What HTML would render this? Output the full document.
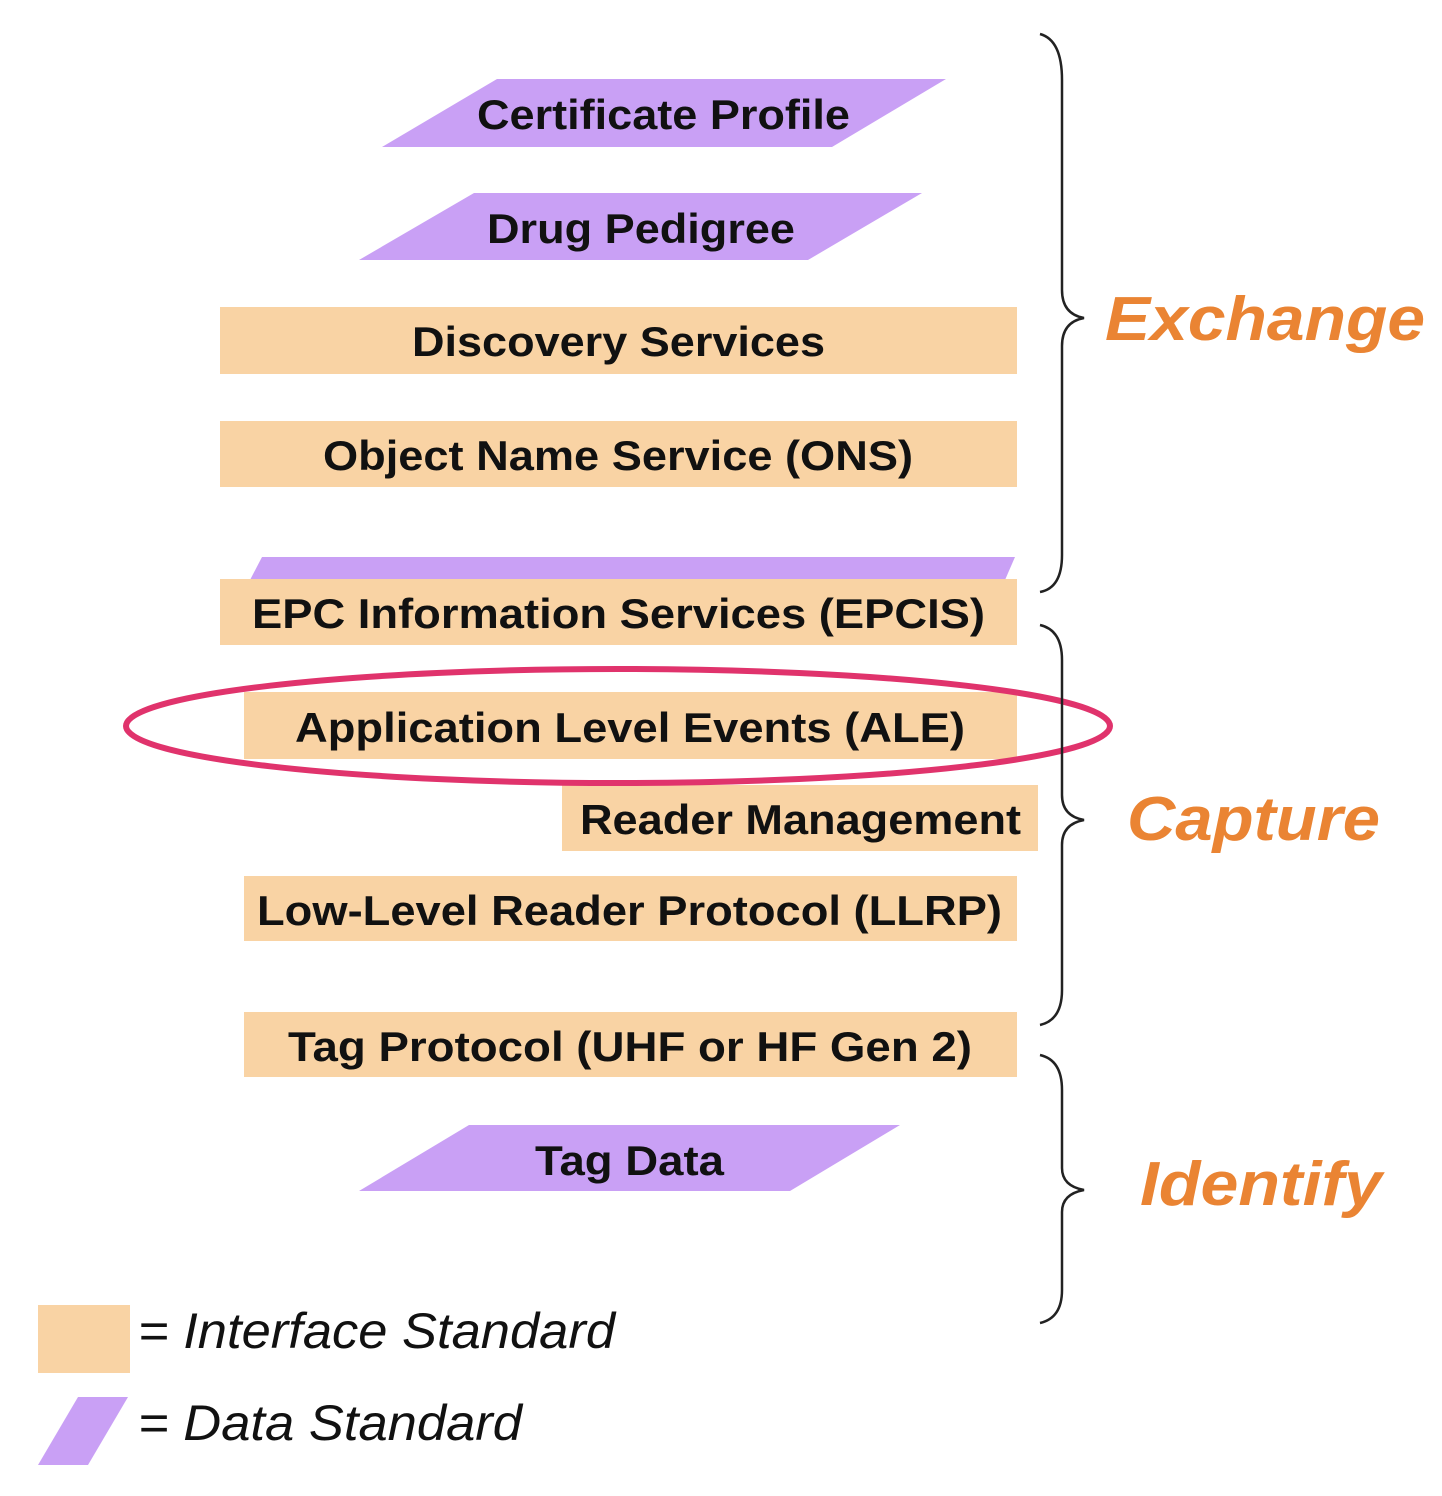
<!DOCTYPE html>
<html><head><meta charset="utf-8"><style>
html,body{margin:0;padding:0;background:#fff;}
svg{display:block;}
text{font-family:"Liberation Sans",Arial,sans-serif;}
</style></head><body>
<svg width="1442" height="1496" viewBox="0 0 1442 1496" xmlns="http://www.w3.org/2000/svg">
<g fill="#c9a0f5">
<polygon points="497,79 946,79 832,147 382,147"/>
<polygon points="474,193 922,193 808,260 359,260"/>
<polygon points="262,557 1015,557 1005,580 250,580"/>
<polygon points="469,1125 900,1125 790,1191 359,1191"/>
<polygon points="78,1397 128,1397 88,1465 38,1465"/>
</g>
<g fill="#f9d3a4">
<rect x="220" y="307" width="797" height="67"/>
<rect x="220" y="421" width="797" height="66"/>
<rect x="220" y="579" width="797" height="66"/>
<rect x="244" y="692" width="773" height="67"/>
<rect x="562" y="785" width="476" height="66"/>
<rect x="244" y="876" width="773" height="65"/>
<rect x="244" y="1012" width="773" height="65"/>
<rect x="38" y="1305" width="92" height="68"/>
</g>
<g font-weight="bold" font-size="42" fill="#111" lengthAdjust="spacingAndGlyphs">
<text x="477" y="129" textLength="373" lengthAdjust="spacingAndGlyphs">Certificate Profile</text>
<text x="487" y="243" textLength="308" lengthAdjust="spacingAndGlyphs">Drug Pedigree</text>
<text x="412" y="356" textLength="413" lengthAdjust="spacingAndGlyphs">Discovery Services</text>
<text x="323" y="470" textLength="590" lengthAdjust="spacingAndGlyphs">Object Name Service (ONS)</text>
<text x="252" y="628" textLength="733" lengthAdjust="spacingAndGlyphs">EPC Information Services (EPCIS)</text>
<text x="295" y="742" textLength="670" lengthAdjust="spacingAndGlyphs">Application Level Events (ALE)</text>
<text x="580" y="834" textLength="441" lengthAdjust="spacingAndGlyphs">Reader Management</text>
<text x="257" y="925" textLength="745" lengthAdjust="spacingAndGlyphs">Low-Level Reader Protocol (LLRP)</text>
<text x="288" y="1061" textLength="684" lengthAdjust="spacingAndGlyphs">Tag Protocol (UHF or HF Gen 2)</text>
<text x="535" y="1175" textLength="189" lengthAdjust="spacingAndGlyphs">Tag Data</text>
</g>
<ellipse cx="618" cy="726" rx="492" ry="57" fill="none" stroke="#e0336c" stroke-width="6"/>
<g fill="none" stroke="#222" stroke-width="2.5">
<path d="M1040,34 Q1062,40 1062,80 L1062,290 Q1062,314 1084,318 Q1062,322 1062,346 L1062,555 Q1062,588 1040,592"/>
<path d="M1040,625 Q1062,630 1062,660 L1062,795 Q1062,816 1084,820 Q1062,824 1062,845 L1062,990 Q1062,1020 1040,1025"/>
<path d="M1040,1055 Q1062,1060 1062,1090 L1062,1168 Q1062,1186 1084,1190 Q1062,1194 1062,1212 L1062,1290 Q1062,1318 1040,1323"/>
</g>
<g font-weight="bold" font-style="italic" font-size="62" fill="#ea8433">
<text x="1105" y="340" textLength="320" lengthAdjust="spacingAndGlyphs">Exchange</text>
<text x="1127" y="840" textLength="253" lengthAdjust="spacingAndGlyphs">Capture</text>
<text x="1140" y="1205" textLength="242" lengthAdjust="spacingAndGlyphs">Identify</text>
</g>
<g font-style="italic" font-size="50" fill="#111">
<text x="138" y="1348" textLength="477" lengthAdjust="spacingAndGlyphs">= Interface Standard</text>
<text x="138" y="1440" textLength="384" lengthAdjust="spacingAndGlyphs">= Data Standard</text>
</g>
</svg>
</body></html>
